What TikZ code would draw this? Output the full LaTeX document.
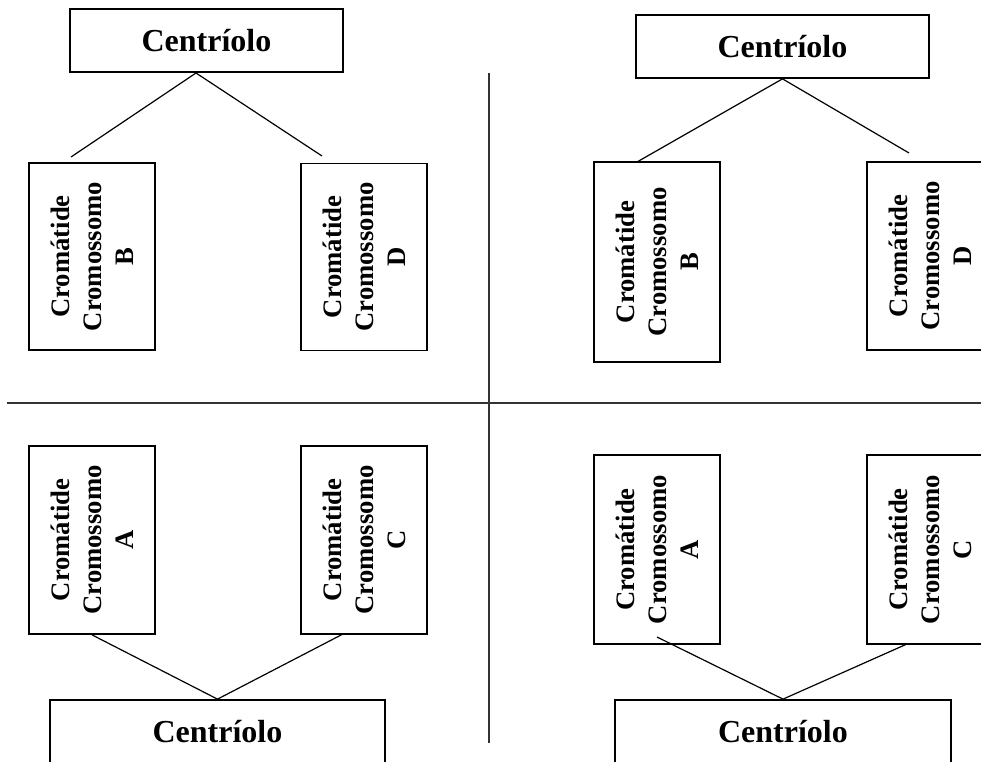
\documentclass[tikz,border=0pt]{standalone}
\usepackage{fontspec}
\setmainfont{Liberation Serif}
\tikzset{
	cent/.style={draw, line width=1.3pt, inner sep=0pt, font=\bfseries\fontsize{24}{28}\selectfont},
	crom/.style={draw, line width=1.3pt, inner sep=0pt, rotate=90, align=center, minimum height=94.5pt, font=\bfseries\fontsize{20}{24}\selectfont},
	link/.style={line width=0.9pt},
	sepline/.style={line width=1.1pt, black!80}
}

\begin{document}
\begin{tikzpicture}[x=0.75pt,y=-0.75pt]
	\useasboundingbox (0,0) rectangle (981,762);
	\clip (0,0) rectangle (981,762);
	
	\draw [sepline] (489,73) -- (489,743);
	\draw [sepline] (7,403) -- (981,403);
	
	\node [cent, minimum width=204.75pt, minimum height=47.25pt] (centTL) at (206.5,40.5) {Centríolo};
	\node [crom, minimum width=140.25pt] (cromB1) at (92,256.5) {Cromátide\\Cromossomo\\B};
	\node [crom, minimum width=140.25pt] (cromD1) at (364,257) {Cromátide\\Cromossomo\\D};
	
	\node [cent, minimum width=219.75pt, minimum height=47.25pt] (centTR) at (782.5,46.5) {Centríolo};
	\node [crom, minimum width=150pt] (cromB2) at (657,262) {Cromátide\\Cromossomo\\B};
	\node [crom, minimum width=141pt] (cromD2) at (930,256) {Cromátide\\Cromossomo\\D};
	
	\node [crom, minimum width=141pt] (cromA1) at (92,540) {Cromátide\\Cromossomo\\A};
	\node [crom, minimum width=141pt] (cromC1) at (364,540) {Cromátide\\Cromossomo\\C};
	\node [cent, minimum width=251.25pt, minimum height=48pt] (centBL) at (217.5,732) {Centríolo};
	
	\node [crom, minimum width=141.75pt] (cromA2) at (657,549.5) {Cromátide\\Cromossomo\\A};
	\node [crom, minimum width=141.75pt] (cromC2) at (930,549.5) {Cromátide\\Cromossomo\\C};
	\node [cent, minimum width=252pt, minimum height=48pt] (centBR) at (783,732) {Centríolo};
	
	\coordinate (jTL) at (196,73);
	\coordinate (eB1) at (71,157);
	\coordinate (eD1) at (322,156);
	\coordinate (eB2) at (637,162);
	\coordinate (eD2) at (909,153);
	\coordinate (eC1) at (343,634);
	\coordinate (eA2) at (657,637);
	\coordinate (eC2) at (907,644);
	
	\draw [link] (jTL) -- (eB1);
	\draw [link] (jTL) -- (eD1);
	\draw [link] (centTR.south) -- (eB2);
	\draw [link] (centTR.south) -- (eD2);
	\draw [link] (cromA1.west) -- (centBL.north);
	\draw [link] (eC1) -- (centBL.north);
	\draw [link] (eA2) -- (centBR.north);
	\draw [link] (eC2) -- (centBR.north);
\end{tikzpicture}
\end{document}
